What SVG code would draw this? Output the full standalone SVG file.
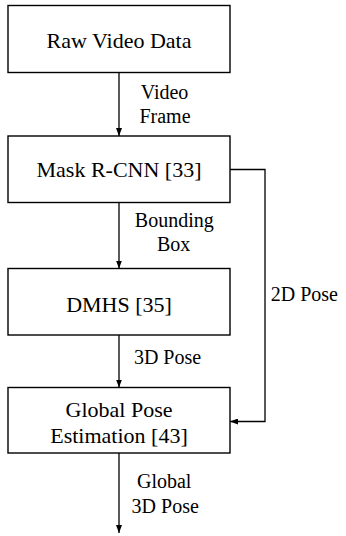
<svg xmlns="http://www.w3.org/2000/svg" width="346" height="536" viewBox="0 0 346 536">
<style>
.box{fill:#fff;stroke:#000;stroke-width:1.4}
.nt{font-family:"Liberation Serif","Times New Roman",serif;font-size:22px;fill:#000;text-anchor:middle}
.lt{font-family:"Liberation Serif","Times New Roman",serif;font-size:20px;fill:#000;text-anchor:middle}
.ln{fill:none;stroke:#000;stroke-width:1.3}
</style>
<defs>
<marker id="ah" markerUnits="userSpaceOnUse" markerWidth="9" markerHeight="6" refX="8" refY="3" orient="auto">
<path d="M0,0 L8,3 L0,6 z" fill="#000"/>
</marker>
</defs>
<rect width="346" height="536" fill="#fff"/>
<g id="connectors">
<line class="ln" x1="119" y1="72.5" x2="119" y2="136" marker-end="url(#ah)"/>
<line class="ln" x1="119" y1="202.5" x2="119" y2="268.5" marker-end="url(#ah)"/>
<line class="ln" x1="119" y1="335" x2="119" y2="387.5" marker-end="url(#ah)"/>
<line class="ln" x1="119" y1="453" x2="119" y2="533" marker-end="url(#ah)"/>
<polyline class="ln" points="230,169.5 265,169.5 265,421.5 230,421.5" marker-end="url(#ah)"/>
<text class="lt" x="164.5" y="99">Video</text>
<text class="lt" x="165" y="123">Frame</text>
<text class="lt" x="174.3" y="226.7">Bounding</text>
<text class="lt" x="173.7" y="250.7">Box</text>
<text class="lt" x="167.5" y="364.3">3D Pose</text>
<text class="lt" x="164.2" y="488.3">Global</text>
<text class="lt" x="165.2" y="512.5">3D Pose</text>
<text class="lt" x="270.7" y="301" style="text-anchor:start">2D Pose</text>
</g>
<g id="raw-video-data">
<rect class="box" x="8" y="5.5" width="222" height="67"/>
<text class="nt" x="119" y="48.3">Raw Video Data</text>
</g>
<g id="mask-rcnn">
<rect class="box" x="8" y="136" width="222" height="66.5"/>
<text class="nt" x="119" y="177.3">Mask R-CNN [33]</text>
</g>
<g id="dmhs">
<rect class="box" x="8" y="268.5" width="222" height="66.5"/>
<text class="nt" x="119" y="311.7">DMHS [35]</text>
</g>
<g id="global-pose">
<rect class="box" x="8" y="387.5" width="222" height="65.5"/>
<text class="nt" x="119" y="416.5">Global Pose</text>
<text class="nt" x="119" y="443.3">Estimation [43]</text>
</g>
</svg>
